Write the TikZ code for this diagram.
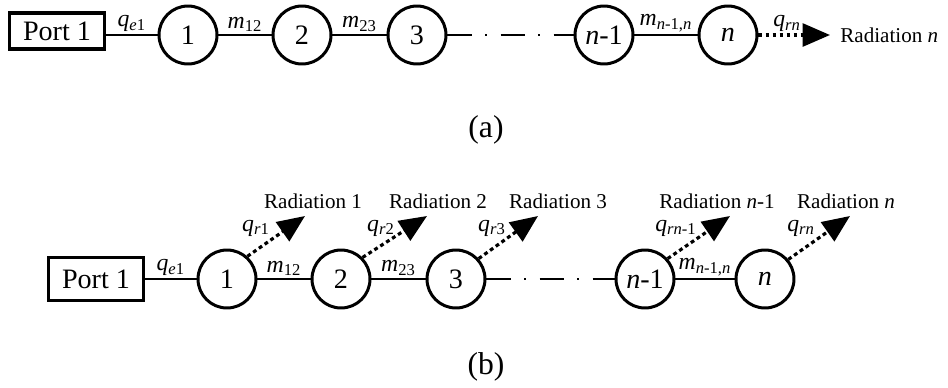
\documentclass[tikz,border=0pt]{standalone}
\usepackage{fontspec}
\setmainfont{Liberation Serif}
\usetikzlibrary{arrows.meta,positioning,calc}

\newcommand{\msub}[2]{\textit{#1}\textsubscript{#2}}

\begin{document}
\begin{tikzpicture}[x=0.02cm, y=-0.02cm,
    port/.style={draw, line width=1.8pt, minimum width=1.9cm, minimum height=0.72cm, inner sep=0pt, font=\fontsize{16}{18}\selectfont},
    res/.style={draw, circle, line width=1.7pt, minimum size=1.16cm, inner sep=0pt, font=\fontsize{16}{18}\selectfont},
    link/.style={line width=1.5pt},
    chain/.style={line width=1.6pt, dash pattern=on 14pt off 7.5pt on 1.2pt off 7.5pt},
    rad/.style={line width=1.8pt, dash pattern=on 2.2pt off 1.8pt, -{Triangle[length=0.55cm, width=0.46cm]}},
    lab/.style={font=\fontsize{13.5}{15}\selectfont, inner sep=1pt},
    radtxt/.style={font=\fontsize{12}{14}\selectfont, inner sep=0pt},
    subcap/.style={font=\fontsize{18}{20}\selectfont}
]
\useasboundingbox (0,0) rectangle (948,387);

% (a) radiation only at the last resonator
\node[port] (p1a) at (57,31) {Port 1};
\node[res] (r1a)  at (188,35) {1};
\node[res] (r2a)  at (302,35) {2};
\node[res] (r3a)  at (417,35) {3};
\node[res] (rn1a) at (604,35) {\textit{n}-1};
\node[res] (rna)  at (728,35) {\textit{n}};
\coordinate (ta) at (830,35);
\node[radtxt, anchor=west] (radna) at (840,35) {Radiation \textit{n}};

\draw[link] (p1a.east |- r1a) -- node[lab, above] (qea) {\msub{q}{\textit{e}1}} (r1a);
\draw[link] (r1a) -- node[lab, above] (m12a) {\msub{m}{12}} (r2a);
\draw[link] (r2a) -- node[lab, above] (m23a) {\msub{m}{23}} (r3a);
\draw[chain] (r3a) -- (rn1a);
\draw[link] (rn1a) -- node[lab, above] (mna) {\msub{m}{\textit{n}-1,\textit{n}}} (rna);
\draw[rad] (rna) -- node[lab, above, pos=0.4] (qrna) {\msub{q}{\textit{rn}}} (ta);

\node[subcap] (capa) at (486,130) {(a)};

% (b) radiation at every resonator
\node[port, minimum height=0.86cm] (p1b) at (96,279) {Port 1};
\node[res] (r1b)  at (227,279) {1};
\node[res] (r2b)  at (341,279) {2};
\node[res] (r3b)  at (456,279) {3};
\node[res] (rn1b) at (645,279) {\textit{n}-1};
\node[res] (rnb)  at (765,279) {\textit{n}};

\draw[link] (p1b) -- node[lab, above] (qeb) {\msub{q}{\textit{e}1}} (r1b);
\draw[link] (r1b) -- node[lab, above] (m12b) {\msub{m}{12}} (r2b);
\draw[link] (r2b) -- node[lab, above] (m23b) {\msub{m}{23}} (r3b);
\draw[chain] (r3b) -- (rn1b);
\draw[link] (rn1b) -- node[lab, above] (mnb) {\msub{m}{\textit{n}-1,\textit{n}}} (rnb);

\coordinate (t1) at (305,216);
\coordinate (t2) at (427,216);
\coordinate (t3) at (538,216);
\coordinate (tn1) at (730,216);
\coordinate (tn) at (850,216);

\draw[rad] (r1b.48) -- (t1);
\draw[rad] (r2b.45) -- (t2);
\draw[rad] (r3b.42) -- (t3);
\draw[rad] (rn1b.42) -- (tn1);
\draw[rad] (rnb.40) -- (tn);

\node[lab] (qr1) at (256,228) {\msub{q}{\textit{r}1}};
\node[lab] (qr2) at (381,228) {\msub{q}{\textit{r}2}};
\node[lab] (qr3) at (492,228) {\msub{q}{\textit{r}3}};
\node[lab] (qrn1) at (676,228) {\msub{q}{\textit{rn}-1}};
\node[lab] (qrn) at (801,228) {\msub{q}{\textit{rn}}};

\node[radtxt] (rad1) at (313,201) {Radiation 1};
\node[radtxt] (rad2) at (438,201) {Radiation 2};
\node[radtxt] (rad3) at (558,201) {Radiation 3};
\node[radtxt] (radn1) at (717,201) {Radiation \textit{n}-1};
\node[radtxt] (radn) at (846,201) {Radiation \textit{n}};

\node[subcap] (capb) at (486,367) {(b)};
\end{tikzpicture}
\end{document}
